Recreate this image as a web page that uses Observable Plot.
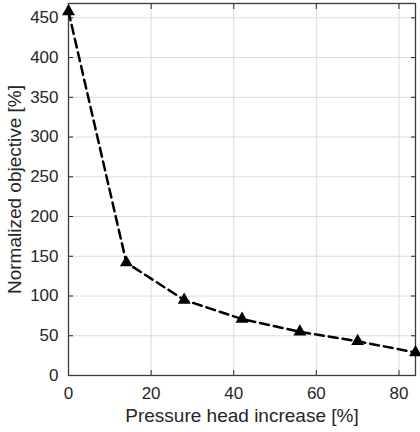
<!DOCTYPE html>
<html>
<head>
<meta charset="utf-8">
<script src="https://cdn.jsdelivr.net/npm/d3@7"></script>
<script src="https://cdn.jsdelivr.net/npm/@observablehq/plot@0.6"></script>
<style>
  html, body { margin: 0; padding: 0; background: #fff; }
  #chart { width: 420px; height: 432px; }
</style>
</head>
<body>
<div id="chart"></div>
<script>
const pressureIncrease = [0, 14, 28, 42, 56, 70, 84];
const normalizedObjective = [458, 142, 95, 71, 55, 43, 29];
const xTicks = [0, 20, 40, 60, 80];
const yTicks = [0, 50, 100, 150, 200, 250, 300, 350, 400, 450];
const xLabel = "Pressure head increase [%]";
const yLabel = "Normalized objective [%]";

const data = pressureIncrease.map((x, i) => ({x, y: normalizedObjective[i]}));
const axisColor = "#262626";
const font = "'Liberation Sans', Arial, Helvetica, sans-serif";
const noText = () => "";

const chart = Plot.plot({
  width: 420,
  height: 432,
  marginLeft: 68,
  marginRight: 5,
  marginTop: 3,
  marginBottom: 57,
  style: {fontFamily: font, fontSize: "17px", color: axisColor, background: "#fff"},
  x: {domain: [0, 84]},
  y: {domain: [0, 468]},
  marks: [
    Plot.gridX(xTicks, {stroke: "#dcdcdc", strokeOpacity: 1, strokeWidth: 1}),
    Plot.gridY(yTicks, {stroke: "#dcdcdc", strokeOpacity: 1, strokeWidth: 1}),
    // tick labels
    Plot.axisX(xTicks, {anchor: "bottom", tickSize: 0, tickPadding: 11, label: null, fill: axisColor}),
    Plot.axisY(yTicks, {anchor: "left", tickSize: 0, tickPadding: 10, label: null, fill: axisColor}),
    // inward ticks on all four sides
    Plot.axisX(xTicks, {anchor: "bottom", tickSize: -5, tickFormat: noText, label: null, stroke: axisColor}),
    Plot.axisX(xTicks, {anchor: "top", tickSize: -5, tickFormat: noText, label: null, stroke: axisColor}),
    Plot.axisY(yTicks, {anchor: "left", tickSize: -5, tickFormat: noText, label: null, stroke: axisColor}),
    Plot.axisY(yTicks, {anchor: "right", tickSize: -5, tickFormat: noText, label: null, stroke: axisColor}),
    Plot.frame({stroke: "#3a3a3a", strokeWidth: 1.3}),
    Plot.line(data, {x: "x", y: "y", stroke: "black", strokeWidth: 2.5, strokeDasharray: "9,5"}),
    Plot.dot(data, {x: "x", y: "y", symbol: "triangle", r: 4.8, fill: "black", stroke: "none"}),
    Plot.text([xLabel], {frameAnchor: "bottom", dy: 40, fontSize: 19, fill: axisColor, lineAnchor: "middle", textAnchor: "middle"}),
    Plot.text([yLabel], {frameAnchor: "left", dx: -54, rotate: -90, fontSize: 19, fill: axisColor, lineAnchor: "middle", textAnchor: "middle"})
  ]
});
document.getElementById("chart").appendChild(chart);
</script>
</body>
</html>
